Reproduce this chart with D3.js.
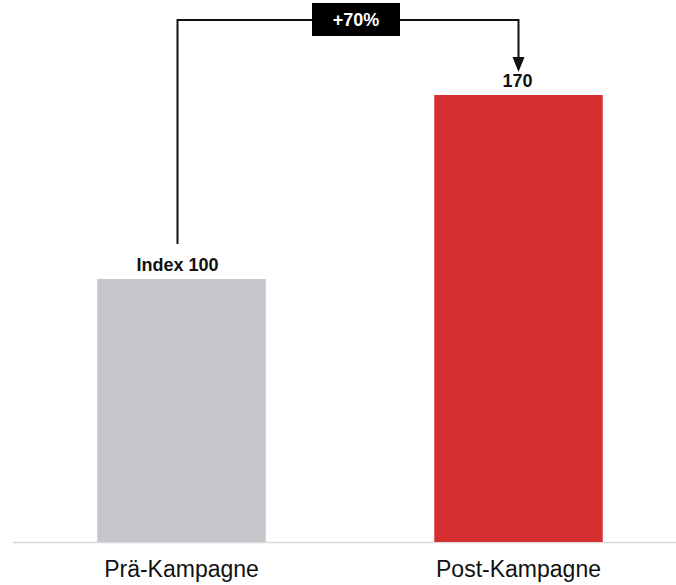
<!DOCTYPE html>
<html>
<head>
<meta charset="utf-8">
<script src="https://cdn.jsdelivr.net/npm/d3@7"></script>
<style>
  body { margin: 0; background: #fff; }
  svg { display: block; font-family: "Liberation Sans", Arial, Helvetica, sans-serif; }
</style>
</head>
<body>
<svg></svg>
<script>
let categories = ["Prä-Kampagne", "Post-Kampagne"];
let values = [100, 170];
let valueLabels = ["Index 100", "170"];
let barColors = ["#c6c5ca", "#d62f2f"];
let deltaLabel = "+70%";

let width = 676;
let height = 585;
let baseline = 542;

let svg = d3.select("svg")
    .attr("width", width)
    .attr("height", height);

let xScale = d3.scaleBand()
    .domain(categories)
    .range([13, 687])
    .paddingInner(0.5)
    .paddingOuter(0.25);

let yScale = d3.scaleLinear()
    .domain([0, 170])
    .range([baseline, 95]);

// baseline
svg.append("line")
    .attr("x1", 13)
    .attr("x2", width)
    .attr("y1", baseline + 0.5)
    .attr("y2", baseline + 0.5)
    .attr("stroke", "#d9d9d9")
    .attr("stroke-width", 1.5);

// bars
svg.selectAll("rect.bar")
    .data(values)
    .enter()
    .append("rect")
    .attr("class", "bar")
    .attr("x", (d, i) => xScale(categories[i]))
    .attr("y", d => yScale(d))
    .attr("width", xScale.bandwidth())
    .attr("height", d => baseline - yScale(d))
    .attr("fill", (d, i) => barColors[i]);

// value labels (first one sits under the bracket line)
svg.selectAll("text.value")
    .data(values)
    .enter()
    .append("text")
    .attr("class", "value")
    .attr("x", (d, i) => xScale(categories[i]) + xScale.bandwidth() / 2 - (i === 0 ? 4 : 1))
    .attr("y", d => yScale(d) - 8)
    .attr("text-anchor", "middle")
    .style("font-size", "18px")
    .style("font-weight", "bold")
    .attr("fill", "#111")
    .text((d, i) => valueLabels[i]);

// category labels
svg.selectAll("text.cat")
    .data(categories)
    .enter()
    .append("text")
    .attr("class", "cat")
    .attr("x", d => xScale(d) + xScale.bandwidth() / 2)
    .attr("y", 577)
    .attr("text-anchor", "middle")
    .style("font-size", "23px")
    .attr("fill", "#111")
    .text(d => d);

// bracket with arrow
let x0 = xScale(categories[0]) + xScale.bandwidth() / 2 - 4;
let x1 = xScale(categories[1]) + xScale.bandwidth() / 2;
let topY = 20;
let tipY = 72;

svg.append("path")
    .attr("d", "M" + x0 + "," + (yScale(values[0]) - 35) +
        "V" + topY + "H" + x1 + "V" + (tipY - 12))
    .attr("fill", "none")
    .attr("stroke", "#111")
    .attr("stroke-width", 2);

svg.append("path")
    .attr("d", "M" + (x1 - 6) + "," + (tipY - 15) +
        "L" + (x1 + 6) + "," + (tipY - 15) + "L" + x1 + "," + tipY + "Z")
    .attr("fill", "#111");

let boxCx = (x0 + x1) / 2 + 8;
svg.append("rect")
    .attr("x", boxCx - 44)
    .attr("y", 3)
    .attr("width", 88)
    .attr("height", 33)
    .attr("fill", "#000");

svg.append("text")
    .attr("x", boxCx)
    .attr("y", 26)
    .attr("text-anchor", "middle")
    .style("font-size", "18px")
    .style("font-weight", "bold")
    .attr("fill", "#fff")
    .text(deltaLabel);
</script>
</body>
</html>
